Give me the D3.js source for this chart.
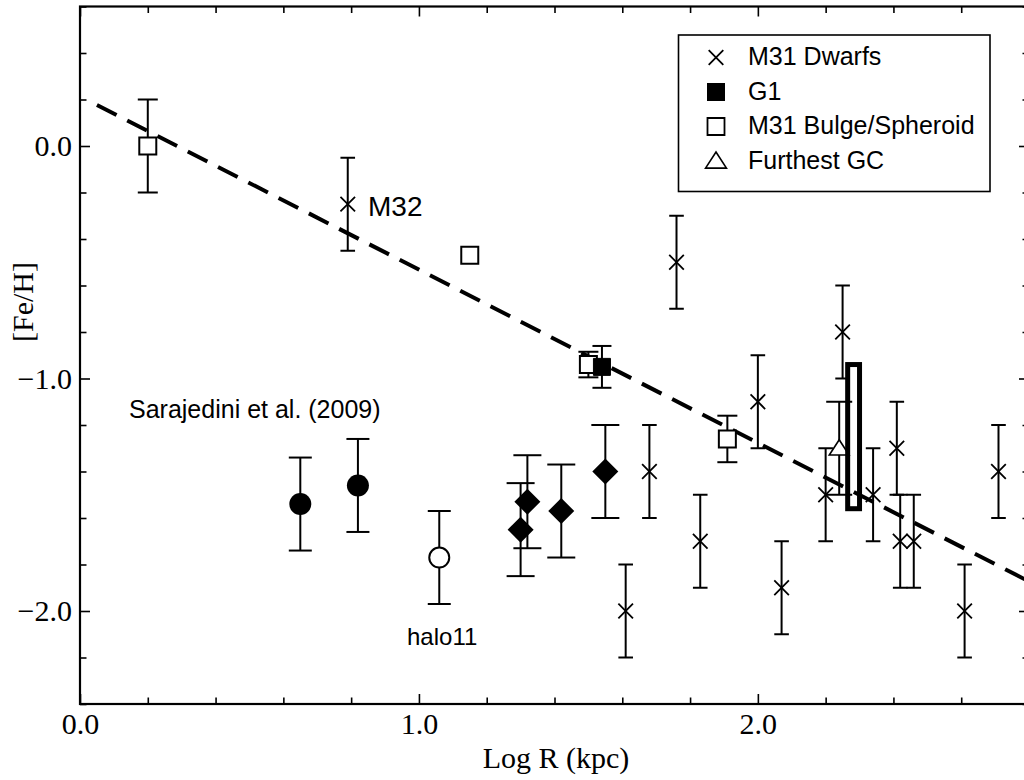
<!DOCTYPE html>
<html>
<head>
<meta charset="utf-8">
<script src="https://cdn.jsdelivr.net/npm/d3@7"></script>
<style>
  body { margin: 0; background: #fff; }
  svg { display: block; }
</style>
</head>
<body>
<svg id="chart" width="1024" height="780"></svg>
<script>
// [logR, FeH, err]
const dwarfs = [
    [0.79, -0.25, 0.2], [1.76, -0.50, 0.2], [1.68, -1.40, 0.2], [1.83, -1.70, 0.2],
    [1.61, -2.00, 0.2], [2.07, -1.90, 0.2], [2.00, -1.10, 0.2], [2.25, -0.80, 0.2],
    [2.20, -1.50, 0.2], [2.34, -1.50, 0.2], [2.41, -1.30, 0.2], [2.42, -1.70, 0.2],
    [2.46, -1.70, 0.2], [2.61, -2.00, 0.2], [2.71, -1.40, 0.2]
];
const g1 = [[1.54, -0.95, 0.09]];
const bulge = [[0.20, 0.00, 0.2], [1.15, -0.47, 0], [1.50, -0.94, 0.055], [1.91, -1.26, 0.1]];
const furthestGC = [[2.24, -1.30, 0.2]];
const sarajFilled = [[0.65, -1.54, 0.2], [0.82, -1.46, 0.2]];
const sarajOpen = [[1.06, -1.77, 0.2]];
const diamonds = [[1.30, -1.65, 0.2], [1.32, -1.53, 0.2], [1.42, -1.57, 0.2], [1.55, -1.40, 0.2]];
const rangeBox = { x: [2.265, 2.30], y: [-1.56, -0.94] };
const fitX = [0.05, 2.8];
const fitY = [0.176, -1.873];

const legendLabels = ["M31 Dwarfs", "G1", "M31 Bulge/Spheroid", "Furthest GC"];
const xMajor = [0, 1, 2];
const yMajor = [0, -1, -2];

const svg = d3.select("#chart");
const x = d3.scaleLinear().domain([0, 2.8]).range([80, 1029]);
const y = d3.scaleLinear().domain([-2.4, 0.6]).range([704, 6.5]);
const fmt = d3.format(".1f");

svg.append("clipPath").attr("id", "clip")
    .append("rect").attr("x", 80).attr("y", 6.5).attr("width", 949).attr("height", 697.5);

// axes (ticks inward on all four sides)
function styleAxis(g) {
    g.select(".domain").remove();
    g.selectAll(".tick line").attr("stroke", "#000").attr("stroke-width", 1.6);
    g.selectAll("text").attr("font-family", "'Liberation Serif', 'Times New Roman', serif")
        .attr("font-size", 30).attr("fill", "#000");
}
const xMinor = d3.range(0, 2.81, 0.2).filter(v => !xMajor.some(m => Math.abs(m - v) < 1e-6));
const yMinor = d3.range(-2.4, 0.61, 0.2).filter(v => !yMajor.some(m => Math.abs(m - v) < 1e-6));

svg.append("g").attr("transform", "translate(0,704)")
    .call(d3.axisBottom(x).tickValues(xMajor).tickFormat(fmt).tickSize(-10).tickPadding(9)).call(styleAxis);
svg.append("g").attr("transform", "translate(0,704)")
    .call(d3.axisBottom(x).tickValues(xMinor).tickFormat("").tickSize(-6.5)).call(styleAxis);
svg.append("g").attr("transform", "translate(0,6.5)")
    .call(d3.axisTop(x).tickValues(xMajor).tickFormat("").tickSize(-10)).call(styleAxis);
svg.append("g").attr("transform", "translate(0,6.5)")
    .call(d3.axisTop(x).tickValues(xMinor).tickFormat("").tickSize(-6.5)).call(styleAxis);
svg.append("g").attr("transform", "translate(80,0)")
    .call(d3.axisLeft(y).tickValues(yMajor).tickFormat(fmt).tickSize(-10).tickPadding(8)).call(styleAxis);
svg.append("g").attr("transform", "translate(80,0)")
    .call(d3.axisLeft(y).tickValues(yMinor).tickFormat("").tickSize(-6.5)).call(styleAxis);
svg.append("g").attr("transform", "translate(1029,0)")
    .call(d3.axisRight(y).tickValues(yMajor).tickFormat("").tickSize(-10)).call(styleAxis);
svg.append("g").attr("transform", "translate(1029,0)")
    .call(d3.axisRight(y).tickValues(yMinor).tickFormat("").tickSize(-6.5)).call(styleAxis);

svg.append("rect").attr("x", 80).attr("y", 6.5).attr("width", 949).attr("height", 697.5)
    .attr("fill", "none").attr("stroke", "#000").attr("stroke-width", 2.2);

svg.append("text").attr("x", 556).attr("y", 768).attr("text-anchor", "middle")
    .attr("font-family", "'Liberation Serif', 'Times New Roman', serif").attr("font-size", 30)
    .text("Log R (kpc)");
svg.append("text").attr("transform", "translate(33,302) rotate(-90)").attr("text-anchor", "middle")
    .attr("font-family", "'Liberation Serif', 'Times New Roman', serif").attr("font-size", 30)
    .text("[Fe/H]");

const plot = svg.append("g").attr("clip-path", "url(#clip)");

// dashed fit line
plot.append("line")
    .attr("x1", x(fitX[0])).attr("y1", y(fitY[0]))
    .attr("x2", x(fitX[1])).attr("y2", y(fitY[1]))
    .attr("stroke", "#000").attr("stroke-width", 4).attr("stroke-dasharray", "22 12");

function errorBars(data, cap) {
    const g = plot.append("g").attr("stroke", "#000").attr("stroke-width", 2);
    data.filter(d => d[2] > 0).forEach(d => {
        const px = x(d[0]), top = y(d[1] + d[2]), bot = y(d[1] - d[2]);
        g.append("line").attr("x1", px).attr("x2", px).attr("y1", top).attr("y2", bot);
        g.append("line").attr("x1", px - cap).attr("x2", px + cap).attr("y1", top).attr("y2", top);
        g.append("line").attr("x1", px - cap).attr("x2", px + cap).attr("y1", bot).attr("y2", bot);
    });
}

const shapes = {
    cross: s => `M${-s},${-s}L${s},${s}M${-s},${s}L${s},${-s}`,
    square: s => `M${-s},${-s}H${s}V${s}H${-s}Z`,
    triangle: s => `M0,${-s * 0.95}L${s * 1.1},${s * 0.75}L${-s * 1.1},${s * 0.75}Z`,
    diamond: s => `M0,${-s}L${s},0L0,${s}L${-s},0Z`
};

function marks(parent, data, shape, size, fill, sw) {
    parent.selectAll(null).data(data).enter().append("path")
        .attr("transform", d => `translate(${x(d[0])},${y(d[1])})`)
        .attr("d", shapes[shape](size))
        .attr("fill", fill).attr("stroke", "#000").attr("stroke-width", sw);
}

errorBars(sarajFilled, 11.5);
errorBars(sarajOpen, 11.5);
errorBars(diamonds, 14);
errorBars(bulge, 10);
errorBars(g1, 9.5);
errorBars(furthestGC, 13);
errorBars(dwarfs, 7.3);

plot.selectAll(null).data(sarajFilled).enter().append("circle")
    .attr("cx", d => x(d[0])).attr("cy", d => y(d[1])).attr("r", 11).attr("fill", "#000");
plot.selectAll(null).data(sarajOpen).enter().append("circle")
    .attr("cx", d => x(d[0])).attr("cy", d => y(d[1])).attr("r", 10)
    .attr("fill", "#fff").attr("stroke", "#000").attr("stroke-width", 2);
marks(plot, diamonds, "diamond", 13, "#000", 0);
marks(plot, bulge, "square", 8.5, "#fff", 2);
marks(plot, g1, "square", 8.5, "#000", 1);
marks(plot, furthestGC, "triangle", 9, "#fff", 1.6);
marks(plot, dwarfs, "cross", 7.3, "none", 1.8);

plot.append("rect")
    .attr("x", x(rangeBox.x[0])).attr("y", y(rangeBox.y[1]))
    .attr("width", x(rangeBox.x[1]) - x(rangeBox.x[0]))
    .attr("height", y(rangeBox.y[0]) - y(rangeBox.y[1]))
    .attr("fill", "none").attr("stroke", "#000").attr("stroke-width", 5);

// annotations
const sans = "'Liberation Sans', Arial, Helvetica, sans-serif";
svg.append("text").attr("x", 368).attr("y", 216).attr("font-family", sans).attr("font-size", 28).text("M32");
svg.append("text").attr("x", 129).attr("y", 418).attr("font-family", sans).attr("font-size", 25).text("Sarajedini et al. (2009)");
svg.append("text").attr("x", 407).attr("y", 645).attr("font-family", sans).attr("font-size", 24).text("halo11");

// legend
const legend = svg.append("g");
legend.append("rect").attr("x", 678.5).attr("y", 35).attr("width", 311.5).attr("height", 156.5)
    .attr("fill", "#fff").attr("stroke", "#000").attr("stroke-width", 1.6);
const legendShapes = [["cross", 7.3, "none", 1.8], ["square", 9, "#000", 0], ["square", 8.5, "#fff", 1.8], ["triangle", 9.5, "#fff", 1.6]];
legendLabels.forEach((label, i) => {
    const base = 65 + i * 34.5;
    const s = legendShapes[i];
    legend.append("path").attr("transform", `translate(716,${base - 7.5})`)
        .attr("d", shapes[s[0]](s[1])).attr("fill", s[2]).attr("stroke", "#000").attr("stroke-width", s[3]);
    legend.append("text").attr("x", 748).attr("y", base).attr("font-family", sans).attr("font-size", 25).text(label);
});
</script>
</body>
</html>
